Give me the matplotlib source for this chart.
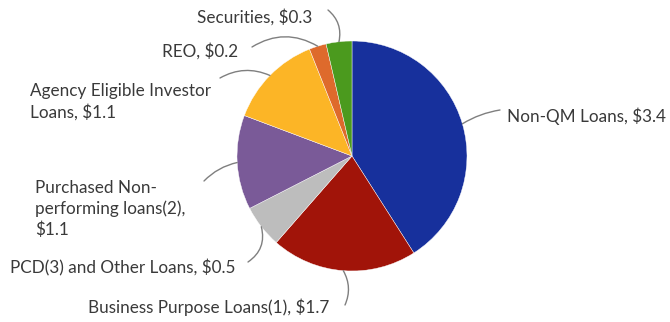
import numpy as np
import matplotlib
matplotlib.use("Agg")
import matplotlib.pyplot as plt

# Portfolio composition ($ billions)
categories = [
    "Non-QM Loans",
    "Business Purpose Loans(1)",
    "PCD(3) and Other Loans",
    "Purchased Non-\nperforming loans(2),",
    "Agency Eligible Investor\nLoans,",
    "REO",
    "Securities",
]
values = [3.4, 1.7, 0.5, 1.1, 1.1, 0.2, 0.3]
colors = ["#17309c", "#a11409", "#bdbdbd", "#7a5a98", "#fcb526", "#de6a2c", "#4b9a1e"]

W, H = 670, 322
fig = plt.figure(figsize=(W / 100, H / 100), dpi=100)
ax = fig.add_axes([0, 0, 1, 1])

cx, cy, r = 352, H - 156, 115
wedges, _ = ax.pie(values, colors=colors, startangle=90, counterclock=False,
                   center=(cx, cy), radius=r, frame=True,
                   wedgeprops=dict(edgecolor="white", linewidth=0.3))
ax.set_xlim(0, W)
ax.set_ylim(0, H)
ax.set_aspect("equal")
ax.axis("off")

font = dict(family=["Lato", "DejaVu Sans"], fontsize=12.3, color="#3a3a3a")

def label_text(name, v):
    sep = " " if name.endswith(",") else ", "
    if name.startswith("Purchased"):
        return name + "\n$" + f"{v}"
    return name + sep + "$" + f"{v}"

# label anchor (x, y from top, ha) and leader end (x, y from top), arc curvature
layout = [
    ((666, 116, "right"), (500, 110), 0.1),
    ((88, 307, "left"), (345, 305), 0.25),
    ((10, 268, "left"), (248, 262), 0.35),
    ((35, 209, "left"), (204, 181), -0.15),
    ((30, 102, "left"), (220, 78), -0.25),
    ((238, 51, "right"), (252, 47), -0.3),
    ((312, 17, "right"), (328, 10), -0.3),
]

for w, name, v, (tpos, lend, rad) in zip(wedges, categories, values, layout):
    mid = np.deg2rad((w.theta1 + w.theta2) / 2)
    edge = (cx + r * np.cos(mid), cy + r * np.sin(mid))
    ax.annotate("", xy=edge, xytext=(lend[0], H - lend[1]),
                arrowprops=dict(arrowstyle="-", color="#7f7f7f", lw=1.0,
                                shrinkA=0, shrinkB=0,
                                connectionstyle=f"arc3,rad={rad}"))
    ax.text(tpos[0], H - tpos[1], label_text(name, v), ha=tpos[2], va="center",
            linespacing=1.3, **font)

fig.savefig("out.png", dpi=100)
